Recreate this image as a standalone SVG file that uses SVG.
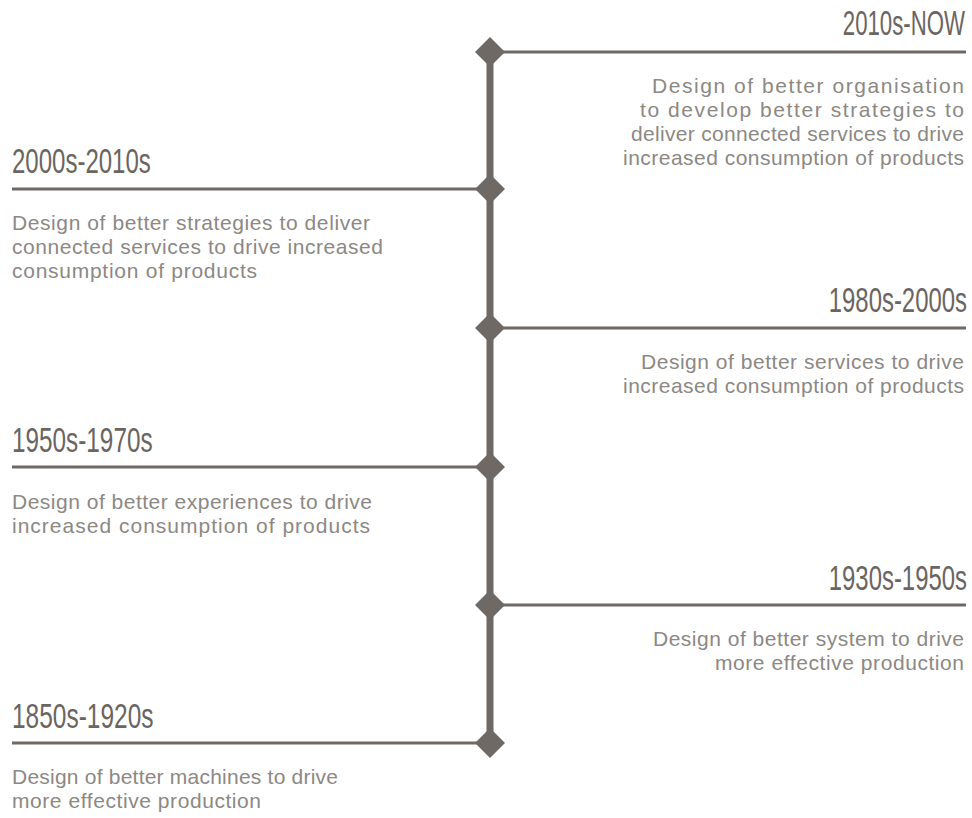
<svg xmlns="http://www.w3.org/2000/svg" width="972" height="818" viewBox="0 0 972 818">
<defs>
<style>
.ln{stroke:#6e6965;stroke-width:3;fill:none}
.spine{stroke:#6e6965;stroke-width:7;fill:none}
.dm{fill:#6e6965}
.hd{font-family:"Liberation Sans",Arial,sans-serif;font-size:35px;fill:#6b6561}
.bd{font-family:"Liberation Sans",Arial,sans-serif;font-size:21px;fill:#8c8884}
.r{text-anchor:end}
</style>
<path id="dia" d="M0,-15 L15,0 L0,15 L-15,0 Z"/>
</defs>
<g id="connectors">
<line class="spine" x1="490" y1="52" x2="490" y2="743"/>
<line class="ln" x1="490" y1="52" x2="966" y2="52"/>
<line class="ln" x1="12" y1="189" x2="490" y2="189"/>
<line class="ln" x1="490" y1="328" x2="966" y2="328"/>
<line class="ln" x1="12" y1="467" x2="490" y2="467"/>
<line class="ln" x1="490" y1="605" x2="966" y2="605"/>
<line class="ln" x1="12" y1="743" x2="490" y2="743"/>
</g>
<g id="n2010s">
<use href="#dia" class="dm" x="490" y="52"/>
<text class="hd r" transform="translate(965,35) scale(0.635,1)">2010s-NOW</text>
<text class="bd r" x="964" y="93" textLength="312" lengthAdjust="spacing">Design of better organisation</text>
<text class="bd r" x="964" y="117" textLength="324" lengthAdjust="spacing">to develop better strategies to</text>
<text class="bd r" x="964" y="141" textLength="333" lengthAdjust="spacing">deliver connected services to drive</text>
<text class="bd r" x="964" y="165" textLength="341" lengthAdjust="spacing">increased consumption of products</text>
</g>
<g id="n2000s">
<use href="#dia" class="dm" x="490" y="189"/>
<text class="hd" transform="translate(12,173) scale(0.686,1)">2000s-2010s</text>
<text class="bd" x="12" y="230" textLength="358" lengthAdjust="spacing">Design of better strategies to deliver</text>
<text class="bd" x="12" y="254" textLength="371" lengthAdjust="spacing">connected services to drive increased</text>
<text class="bd" x="12" y="278" textLength="245" lengthAdjust="spacing">consumption of products</text>
</g>
<g id="n1980s">
<use href="#dia" class="dm" x="490" y="328"/>
<text class="hd r" transform="translate(967,312) scale(0.683,1)">1980s-2000s</text>
<text class="bd r" x="964" y="369" textLength="323" lengthAdjust="spacing">Design of better services to drive</text>
<text class="bd r" x="964" y="393" textLength="341" lengthAdjust="spacing">increased consumption of products</text>
</g>
<g id="n1950s">
<use href="#dia" class="dm" x="490" y="467"/>
<text class="hd" transform="translate(12,452) scale(0.695,1)">1950s-1970s</text>
<text class="bd" x="12" y="509" textLength="360" lengthAdjust="spacing">Design of better experiences to drive</text>
<text class="bd" x="12" y="533" textLength="358" lengthAdjust="spacing">increased consumption of products</text>
</g>
<g id="n1930s">
<use href="#dia" class="dm" x="490" y="605"/>
<text class="hd r" transform="translate(967,590) scale(0.683,1)">1930s-1950s</text>
<text class="bd r" x="964" y="646" textLength="311" lengthAdjust="spacing">Design of better system to drive</text>
<text class="bd r" x="964" y="670" textLength="249" lengthAdjust="spacing">more effective production</text>
</g>
<g id="n1850s">
<use href="#dia" class="dm" x="490" y="743"/>
<text class="hd" transform="translate(12,728) scale(0.70,1)">1850s-1920s</text>
<text class="bd" x="12" y="784" textLength="326" lengthAdjust="spacing">Design of better machines to drive</text>
<text class="bd" x="12" y="808" textLength="249" lengthAdjust="spacing">more effective production</text>
</g>
</svg>
